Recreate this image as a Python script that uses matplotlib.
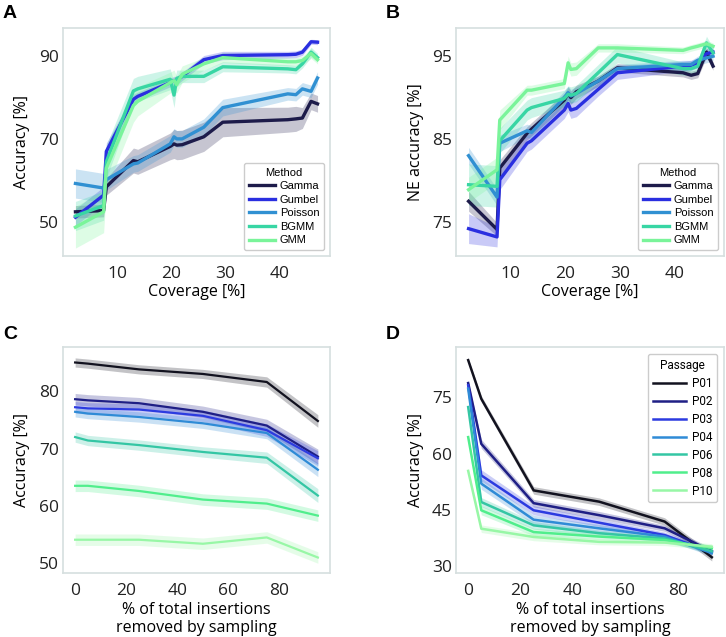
import matplotlib
matplotlib.use("Agg")
import matplotlib.pyplot as plt
import numpy as np

# ---------------- Data ----------------
methods = ["Gamma", "Gumbel", "Poisson", "BGMM", "GMM"]
coverage = [2.3, 7.5, 8.0, 13.0, 13.8, 19.8, 20.5, 21.0, 22.0, 26.0, 29.5, 41.5, 43.0, 44.2, 45.8, 47.0]

acc_gamma   = [52.5, 52.8, 58.5, 64.8, 64.5, 68.2, 68.8, 68.5, 68.6, 70.5, 74.0, 74.6, 74.8, 75.0, 79.0, 78.4]
acc_gumbel  = [51.2, 56.5, 67.0, 79.5, 80.2, 83.5, 84.0, 84.0, 85.0, 89.0, 90.0, 90.2, 90.3, 90.8, 93.3, 93.2]
acc_poisson = [59.3, 58.2, 60.2, 64.0, 64.2, 68.8, 70.5, 70.0, 70.0, 72.8, 77.5, 80.8, 80.6, 82.0, 81.4, 84.6]
acc_bgmm    = [51.5, 54.0, 64.5, 81.5, 82.0, 84.3, 80.5, 84.5, 85.0, 85.0, 87.3, 86.8, 86.6, 88.0, 90.8, 89.5]
acc_gmm     = [48.8, 52.5, 63.0, 78.0, 79.0, 83.5, 84.0, 83.0, 85.5, 88.0, 89.5, 88.5, 88.5, 88.8, 90.5, 89.0]

ci_gamma    = [1.5, 1.5, 2.0, 3.0, 3.0, 3.2, 3.5, 3.5, 3.5, 3.5, 3.5, 3.0, 3.0, 2.5, 2.0, 2.0]
ci_gumbel   = [2.0, 2.0, 2.0, 1.2, 1.0, 1.0, 1.0, 1.0, 1.0, 1.0, 1.0, 0.8, 0.8, 0.8, 0.6, 0.6]
ci_poisson  = [3.5, 3.5, 2.5, 2.0, 2.0, 2.0, 2.0, 2.0, 2.0, 2.0, 2.0, 1.5, 1.5, 1.5, 1.5, 1.5]
ci_bgmm     = [3.5, 3.5, 4.0, 3.0, 3.0, 2.5, 3.0, 2.0, 1.5, 1.5, 1.2, 1.0, 1.0, 1.0, 1.2, 1.0]
ci_gmm      = [5.0, 5.0, 5.0, 4.0, 3.5, 2.5, 2.5, 2.0, 2.0, 1.5, 1.2, 1.0, 1.0, 1.0, 1.2, 1.0]

ne_gamma    = [77.5, 74.1, 81.5, 85.7, 86.2, 89.7, 90.5, 90.0, 90.7, 92.0, 93.6, 93.0, 92.7, 92.9, 95.5, 93.8]
ne_gumbel   = [74.2, 73.2, 80.1, 84.5, 84.8, 88.5, 89.3, 88.5, 88.7, 91.0, 93.0, 93.8, 93.9, 94.2, 95.3, 95.5]
ne_poisson  = [83.0, 78.0, 84.5, 86.0, 85.8, 90.0, 90.6, 90.2, 90.5, 92.0, 93.5, 94.0, 94.0, 94.5, 94.8, 95.0]
ne_bgmm     = [79.5, 79.3, 84.8, 88.5, 88.8, 89.9, 90.4, 90.3, 90.5, 93.0, 95.2, 93.5, 93.5, 93.8, 96.6, 95.4]
ne_gmm      = [78.9, 81.3, 87.3, 90.9, 90.9, 91.7, 94.2, 93.4, 93.5, 96.0, 96.0, 95.7, 96.0, 96.2, 96.5, 96.2]

neci_gamma   = [1.2, 0.8, 1.0, 0.8, 0.8, 0.8, 0.8, 0.8, 0.8, 0.6, 0.5, 0.5, 0.5, 0.5, 0.6, 0.5]
neci_gumbel  = [1.8, 1.2, 1.2, 1.0, 1.0, 1.0, 1.0, 1.0, 1.0, 0.8, 0.8, 0.6, 0.6, 0.6, 0.6, 0.5]
neci_poisson = [1.0, 1.0, 1.0, 0.8, 0.8, 0.8, 0.8, 0.8, 0.8, 0.6, 0.5, 0.5, 0.5, 0.5, 0.6, 0.5]
neci_bgmm    = [2.5, 2.5, 1.5, 1.2, 1.2, 1.0, 1.0, 1.0, 1.0, 1.0, 1.0, 0.8, 0.8, 0.8, 0.8, 0.6]
neci_gmm     = [1.5, 1.5, 1.2, 0.6, 0.6, 0.6, 0.8, 0.8, 0.8, 0.5, 0.5, 0.4, 0.4, 0.4, 0.4, 0.4]

passages = ["P01", "P02", "P03", "P04", "P06", "P08", "P10"]
removed_c = [0, 5, 25, 50, 75, 95]
acc_c = {
    "P01": [85.0, 84.8, 83.8, 83.0, 81.6, 74.8],
    "P02": [78.6, 78.4, 77.9, 76.4, 74.0, 68.6],
    "P03": [77.2, 77.0, 76.8, 75.7, 73.2, 68.3],
    "P04": [76.4, 76.1, 75.5, 74.4, 72.7, 66.3],
    "P06": [72.0, 71.4, 70.6, 69.4, 68.4, 61.8],
    "P08": [63.5, 63.5, 62.6, 61.1, 60.4, 58.3],
    "P10": [54.1, 54.1, 54.1, 53.4, 54.5, 51.0],
}
ci_c = {
    "P01": [0.8, 0.8, 0.8, 0.8, 0.9, 1.1],
    "P02": [1.0, 1.0, 1.0, 1.0, 1.1, 1.3],
    "P03": [1.0, 1.0, 1.0, 1.0, 1.1, 1.3],
    "P04": [0.9, 0.9, 0.9, 0.9, 1.0, 1.2],
    "P06": [0.9, 0.9, 0.9, 0.9, 1.0, 1.2],
    "P08": [1.0, 1.0, 1.0, 1.0, 1.0, 1.0],
    "P10": [1.0, 1.0, 1.0, 1.0, 1.0, 1.0],
}

removed_d = [0, 5, 25, 50, 75, 93]
acc_d = {
    "P01": [84.9, 74.6, 50.2, 47.2, 41.9, 32.4],
    "P02": [78.8, 62.6, 46.8, 43.6, 40.1, 34.0],
    "P03": [78.2, 54.2, 44.9, 41.6, 38.3, 33.8],
    "P04": [77.3, 52.0, 42.4, 40.1, 37.9, 33.5],
    "P06": [72.4, 47.1, 40.9, 38.8, 37.4, 34.0],
    "P08": [64.4, 44.9, 39.1, 37.9, 37.0, 34.8],
    "P10": [55.4, 40.0, 37.8, 36.5, 36.3, 35.2],
}
ci_d = {
    "P01": [0.5, 0.8, 1.0, 1.0, 1.0, 1.0],
    "P02": [0.5, 1.2, 1.0, 1.0, 0.8, 0.8],
    "P03": [0.5, 1.5, 1.2, 1.0, 0.8, 0.8],
    "P04": [0.5, 1.5, 1.2, 1.0, 0.8, 0.8],
    "P06": [0.5, 1.2, 1.0, 0.8, 0.8, 0.8],
    "P08": [0.5, 1.2, 1.0, 0.8, 0.8, 0.8],
    "P10": [0.5, 1.0, 1.0, 0.8, 0.8, 0.8],
}

method_colors = ["#1d1b4a", "#2a2fe0", "#3090d2", "#38d6a4", "#7af49a"]
passage_colors = ["#12121f", "#1f1f85", "#2c3be0", "#2f8bd6", "#34c6a4", "#50ee8c", "#98f7a6"]

# ---------------- Figure ----------------
plt.rcParams["font.family"] = ["Open Sans", "DejaVu Sans"]
fig = plt.figure(figsize=(7.26, 6.37), dpi=100)

W, H = 726.0, 637.0
def add_ax(x0, y0, x1, y1):
    return fig.add_axes([x0 / W, 1 - y1 / H, (x1 - x0) / W, (y1 - y0) / H])

axA = add_ax(63, 28, 330, 256)
axB = add_ax(456, 28, 724, 256)
axC = add_ax(63, 347, 330, 573)
axD = add_ax(456, 347, 724, 573)

frame_color = "#d6dfdf"
for ax in (axA, axB, axC, axD):
    for s in ax.spines.values():
        s.set_color(frame_color)
        s.set_linewidth(1.2)
    ax.tick_params(axis="both", length=0, labelsize=12.5, colors="#222222")
    ax.tick_params(axis="x", pad=7)
    ax.tick_params(axis="y", pad=3)

legend_font = ["Liberation Sans", "DejaVu Sans"]
LAB = 11.5

def method_legend(ax):
    return ax.legend(title="Method", loc="lower right",
                     prop={"family": legend_font, "size": 8},
                     title_fontproperties={"family": legend_font, "size": 8},
                     handlelength=2.4, labelspacing=0.32, handletextpad=0.4,
                     borderpad=0.45, fancybox=True, framealpha=1, edgecolor="#cccccc")

# Panel A
a_series = [acc_gamma, acc_gumbel, acc_poisson, acc_bgmm, acc_gmm]
a_ci = [ci_gamma, ci_gumbel, ci_poisson, ci_bgmm, ci_gmm]
xa = np.array(coverage)
for name, ys, ci, c in zip(methods, a_series, a_ci, method_colors):
    ys = np.array(ys); ci = np.array(ci)
    axA.fill_between(xa, ys - ci, ys + ci, color=c, alpha=0.25, linewidth=0)
    axA.plot(xa, ys, color=c, lw=2.4, label=name)
axA.set_xlim(0, 49.3)
axA.set_ylim(41.9, 96.6)
axA.set_xticks([10, 20, 30, 40])
axA.set_yticks([50, 70, 90])
axA.set_xlabel("Coverage [%]", fontsize=LAB, labelpad=2)
axA.set_ylabel("Accuracy [%]", fontsize=LAB, labelpad=6)
method_legend(axA)

# Panel B
b_series = [ne_gamma, ne_gumbel, ne_poisson, ne_bgmm, ne_gmm]
b_ci = [neci_gamma, neci_gumbel, neci_poisson, neci_bgmm, neci_gmm]
for name, ys, ci, c in zip(methods, b_series, b_ci, method_colors):
    ys = np.array(ys); ci = np.array(ci)
    axB.fill_between(xa, ys - ci, ys + ci, color=c, alpha=0.25, linewidth=0)
    axB.plot(xa, ys, color=c, lw=2.4, label=name)
axB.set_xlim(0, 49.0)
axB.set_ylim(70.9, 98.4)
axB.set_xticks([10, 20, 30, 40])
axB.set_yticks([75, 85, 95])
axB.set_xlabel("Coverage [%]", fontsize=LAB, labelpad=2)
axB.set_ylabel("NE accuracy [%]", fontsize=LAB, labelpad=6)
method_legend(axB)

# Panel C
xc = np.array(removed_c)
for p, c in zip(passages, passage_colors):
    ys = np.array(acc_c[p]); ci = np.array(ci_c[p])
    axC.fill_between(xc, ys - ci, ys + ci, color=c, alpha=0.25, linewidth=0)
    axC.plot(xc, ys, color=c, lw=1.6, label=p)
axC.set_xlim(-4.75, 99.75)
axC.set_ylim(48.3, 87.7)
axC.set_xticks([0, 20, 40, 60, 80])
axC.set_yticks([50, 60, 70, 80])
axC.set_xlabel("% of total insertions\nremoved by sampling", fontsize=LAB, labelpad=2, linespacing=1.2)
axC.set_ylabel("Accuracy [%]", fontsize=LAB, labelpad=6)

# Panel D
xd = np.array(removed_d)
for p, c in zip(passages, passage_colors):
    ys = np.array(acc_d[p]); ci = np.array(ci_d[p])
    axD.fill_between(xd, ys - ci, ys + ci, color=c, alpha=0.25, linewidth=0)
    axD.plot(xd, ys, color=c, lw=1.8, label=p)
axD.set_xlim(-4.65, 97.65)
axD.set_ylim(28.2, 88.4)
axD.set_xticks([0, 20, 40, 60, 80])
axD.set_yticks([30, 45, 60, 75])
axD.set_xlabel("% of total insertions\nremoved by sampling", fontsize=LAB, labelpad=2, linespacing=1.2)
axD.set_ylabel("Accuracy [%]", fontsize=LAB, labelpad=6)
axD.legend(title="Passage", loc="upper right",
           prop={"family": ["Roboto", "DejaVu Sans"], "size": 8.5},
           title_fontproperties={"family": ["Roboto", "DejaVu Sans"], "size": 8.5},
           handlelength=2.8, labelspacing=0.42, handletextpad=0.5,
           fancybox=True, framealpha=1, edgecolor="#cccccc", borderaxespad=0.6)

# Panel letters
for lbl, (x, y) in zip("ABCD", [(3, 18), (386, 18), (3, 339), (386, 339)]):
    fig.text(x / W, 1 - y / H, lbl, fontsize=14, fontweight="bold",
             family=["Liberation Sans", "DejaVu Sans"], ha="left", va="baseline")

fig.savefig("out.png", dpi=100)
